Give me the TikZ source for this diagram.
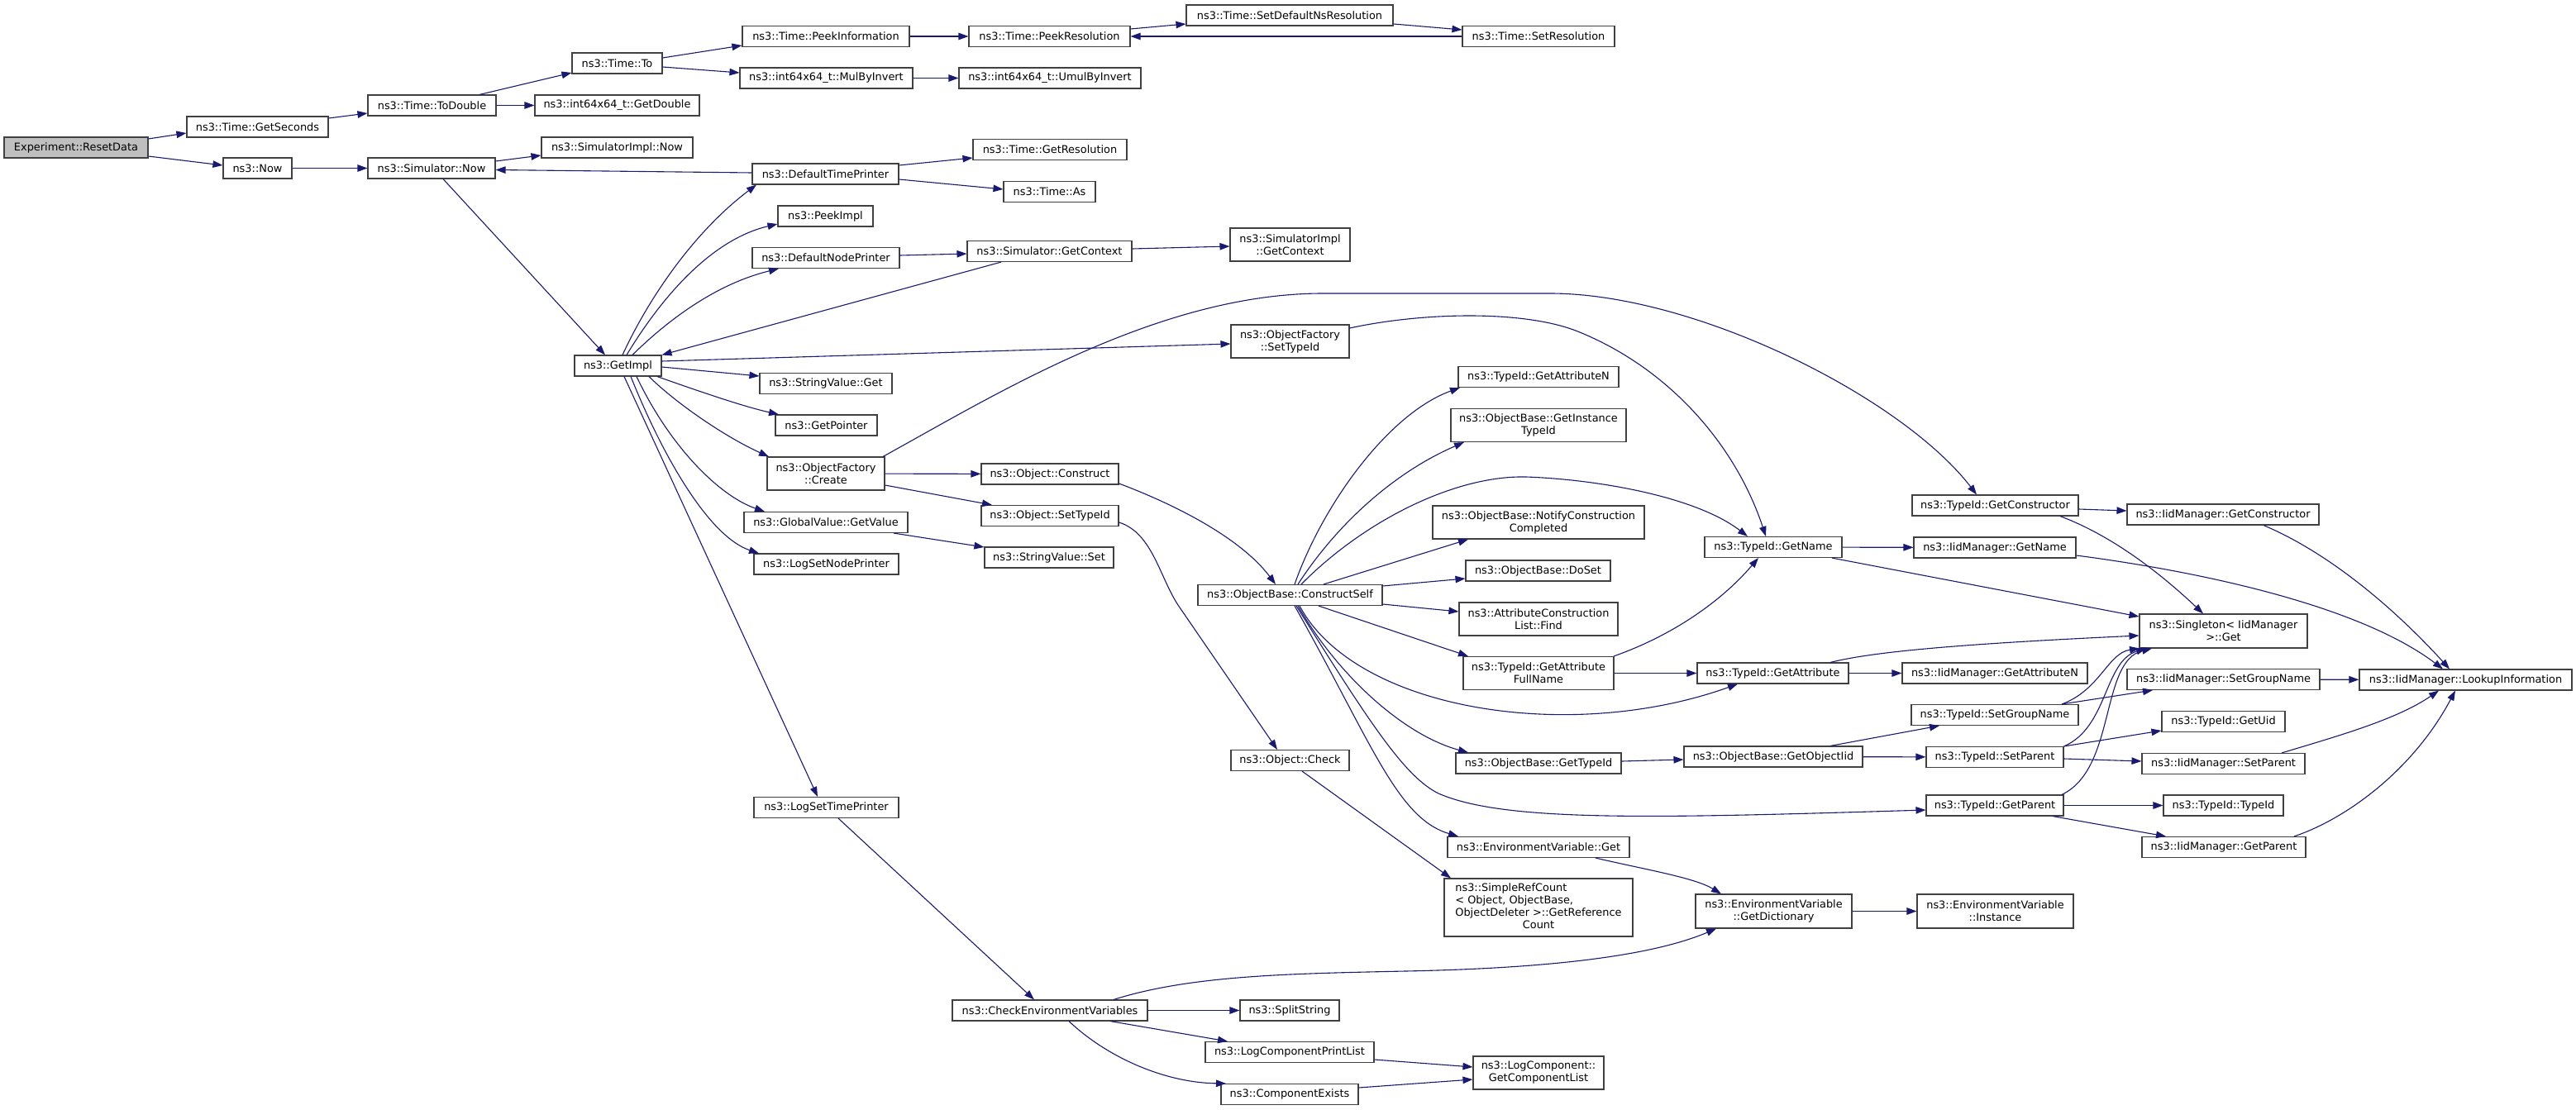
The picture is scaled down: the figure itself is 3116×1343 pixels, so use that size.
\documentclass[tikz,border=0pt]{standalone}
\usepackage{fontspec}
\setmainfont{DejaVu Sans}
\usetikzlibrary{arrows.meta}
\definecolor{edgeblue}{HTML}{191970}
\definecolor{boxgray}{HTML}{404040}
\definecolor{rootgray}{HTML}{BFBFBF}
\newcommand{\dxfont}{\fontsize{12.9}{15}\selectfont}
\tikzset{
  box/.style={draw=boxgray, line width=1.1pt, inner sep=0pt, minimum height=25pt, align=center, font=\dxfont, fill=white},
  e/.style={draw=edgeblue, line width=1.1pt, -{Triangle[length=12pt,width=8.5pt]}}
}
\begin{document}
\begin{tikzpicture}[x=1pt,y=-1pt]
\fill[white] (0,0) rectangle (3116,1343);
\useasboundingbox (0,0) rectangle (3116,1343);
% ---------------- nodes ----------------
\node[box,fill=rootgray,minimum width=174pt] (reset) at (92,178.5) {Experiment::ResetData};
\node[box,minimum width=171pt] (getsec) at (311.5,153.5) {ns3::Time::GetSeconds};
\node[box,minimum width=83pt] (now) at (311.5,203.5) {ns3::Now};
\node[box,minimum width=155pt] (todouble) at (522.5,127.5) {ns3::Time::ToDouble};
\node[box,minimum width=154pt] (simnow) at (522,203.5) {ns3::Simulator::Now};
\node[box,minimum width=109pt] (timeto) at (746.5,76.5) {ns3::Time::To};
\node[box,minimum width=199pt] (getdouble) at (746.5,127.5) {ns3::int64x64\_t::GetDouble};
\node[box,minimum width=183pt] (simimplnow) at (746.5,178.5) {ns3::SimulatorImpl::Now};
\node[box,minimum width=105pt] (getimpl) at (747.5,442.5) {ns3::GetImpl};
\node[box,minimum width=202pt] (peekinfo) at (999,44) {ns3::Time::PeekInformation};
\node[box,minimum width=209pt] (mulbyinv) at (999.5,94.5) {ns3::int64x64\_t::MulByInvert};
\node[box,minimum width=177pt] (deftime) at (998.5,210.5) {ns3::DefaultTimePrinter};
\node[box,minimum width=115pt] (peekimpl) at (998.5,261.5) {ns3::PeekImpl};
\node[box,minimum width=178pt] (defnode) at (999,312) {ns3::DefaultNodePrinter};
\node[box,minimum width=160pt] (strget) at (999,464) {ns3::StringValue::Get};
\node[box,minimum width=123pt] (getpointer) at (999.5,514.5) {ns3::GetPointer};
\node[box,minimum width=142pt,minimum height=40pt] (ofcreate) at (999,573) {ns3::ObjectFactory\\::Create};
\node[box,minimum width=198pt] (gvget) at (999,632) {ns3::GlobalValue::GetValue};
\node[box,minimum width=175pt] (logsetnode) at (999.5,682.5) {ns3::LogSetNodePrinter};
\node[box,minimum width=175pt] (logsettime) at (999.5,977) {ns3::LogSetTimePrinter};
\node[box,minimum width=195pt] (peekres) at (1269.5,44) {ns3::Time::PeekResolution};
\node[box,minimum width=220pt] (umul) at (1270,94.5) {ns3::int64x64\_t::UmulByInvert};
\node[box,minimum width=186pt] (getres) at (1270,181) {ns3::Time::GetResolution};
\node[box,minimum width=111pt] (timeas) at (1269.5,232) {ns3::Time::As};
\node[box,minimum width=199pt] (simgetctx) at (1269.5,304) {ns3::Simulator::GetContext};
\node[box,minimum width=166pt] (objconstruct) at (1270,573.5) {ns3::Object::Construct};
\node[box,minimum width=166pt] (objsettypeid) at (1270,624) {ns3::Object::SetTypeId};
\node[box,minimum width=156pt] (strset) at (1269,674.5) {ns3::StringValue::Set};
\node[box,minimum width=236pt] (checkenv) at (1270,1222.5) {ns3::CheckEnvironmentVariables};
\node[box,minimum width=250pt] (setdefns) at (1560,18.5) {ns3::Time::SetDefaultNsResolution};
\node[box,minimum width=145pt,minimum height=40pt] (simimplgetctx) at (1560.5,296) {ns3::SimulatorImpl\\::GetContext};
\node[box,minimum width=143pt,minimum height=40pt] (ofsettypeid) at (1560.5,413) {ns3::ObjectFactory\\::SetTypeId};
\node[box,minimum width=223pt] (constructself) at (1560.5,720) {ns3::ObjectBase::ConstructSelf};
\node[box,minimum width=143pt] (objcheck) at (1560.5,920) {ns3::Object::Check};
\node[box,minimum width=120pt] (splitstring) at (1560,1222.5) {ns3::SplitString};
\node[box,minimum width=204pt] (printlist) at (1560,1273) {ns3::LogComponentPrintList};
\node[box,minimum width=166pt] (compexists) at (1560,1324) {ns3::ComponentExists};
\node[box,minimum width=184pt] (setres) at (1861,44) {ns3::Time::SetResolution};
\node[box,minimum width=194pt] (getattrn) at (1861,456) {ns3::TypeId::GetAttributeN};
\node[box,minimum width=212pt,minimum height=40pt] (getinst) at (1861,514.5) {ns3::ObjectBase::GetInstance\\TypeId};
\node[box,minimum width=256pt,minimum height=40pt] (notify) at (1861,632) {ns3::ObjectBase::NotifyConstruction\\Completed};
\node[box,minimum width=175pt] (doset) at (1860.5,690.5) {ns3::ObjectBase::DoSet};
\node[box,minimum width=192pt,minimum height=40pt] (acfind) at (1861,749) {ns3::AttributeConstruction\\List::Find};
\node[box,minimum width=182pt,minimum height=40pt] (getattrfull) at (1861,814.5) {ns3::TypeId::GetAttribute\\FullName};
\node[box,minimum width=200pt] (obgettypeid) at (1861,923.5) {ns3::ObjectBase::GetTypeId};
\node[box,minimum width=220pt] (envget) at (1861,1025) {ns3::EnvironmentVariable::Get};
\node[box,minimum width=228pt,minimum height=70pt] (refcount) at (1861,1098) {\begin{tabular}{@{}l@{}}ns3::SimpleRefCount\\< Object, ObjectBase,\\\multicolumn{1}{@{}c@{}}{ObjectDeleter >::GetReference}\\\multicolumn{1}{@{}c@{}}{Count}\end{tabular}};
\node[box,minimum width=158pt,minimum height=40pt] (getcomplist) at (1861,1298) {ns3::LogComponent::\\GetComponentList};
\node[box,minimum width=166pt] (getname) at (2145,662) {ns3::TypeId::GetName};
\node[box,minimum width=183pt] (getattr) at (2144.5,814.5) {ns3::TypeId::GetAttribute};
\node[box,minimum width=216pt] (getobjiid) at (2145,915.5) {ns3::ObjectBase::GetObjectIid};
\node[box,minimum width=189pt,minimum height=41pt] (getdict) at (2145.5,1102.5) {ns3::EnvironmentVariable\\::GetDictionary};
\node[box,minimum width=201pt] (getctor) at (2413.5,611.5) {ns3::TypeId::GetConstructor};
\node[box,minimum width=196pt] (iidgetname) at (2413,662.5) {ns3::IidManager::GetName};
\node[box,minimum width=224pt] (iidgetattrn) at (2413,814.5) {ns3::IidManager::GetAttributeN};
\node[box,minimum width=202pt] (tsetgroup) at (2413,865) {ns3::TypeId::SetGroupName};
\node[box,minimum width=166pt] (tsetparent) at (2413,916) {ns3::TypeId::SetParent};
\node[box,minimum width=166pt] (tgetparent) at (2413,974.5) {ns3::TypeId::GetParent};
\node[box,minimum width=189pt,minimum height=41pt] (envinst) at (2413.5,1102.5) {ns3::EnvironmentVariable\\::Instance};
\node[box,minimum width=232pt] (iidgetctor) at (2689,622.5) {ns3::IidManager::GetConstructor};
\node[box,minimum width=203pt,minimum height=41pt] (singleton) at (2689.5,763.5) {ns3::Singleton< IidManager\\>::Get};
\node[box,minimum width=233pt] (iidsetgroup) at (2689.5,822) {ns3::IidManager::SetGroupName};
\node[box,minimum width=149pt] (tgetuid) at (2689.5,873) {ns3::TypeId::GetUid};
\node[box,minimum width=197pt] (iidsetparent) at (2689.5,924) {ns3::IidManager::SetParent};
\node[box,minimum width=145pt] (ttypeid) at (2689.5,974.5) {ns3::TypeId::TypeId};
\node[box,minimum width=198pt] (iidgetparent) at (2690,1025) {ns3::IidManager::GetParent};
\node[box,minimum width=257pt] (lookup) at (2982.5,822.5) {ns3::IidManager::LookupInformation};
% ---------------- edges ----------------
\draw[e] (reset.east |- 0,168) -- (getsec.west |- 0,161);
\draw[e] (reset.east |- 0,189) -- (now.west |- 0,200);
\draw[e] (getsec.east |- 0,143) -- (todouble.west |- 0,137);
\draw[e] (580,0 |- todouble.north) -- (timeto.west |- 0,88);
\draw[e] (todouble) -- (getdouble);
\draw[e] (timeto.east |- 0,70) -- (peekinfo.west |- 0,55);
\draw[e] (timeto.east |- 0,81) -- (mulbyinv.west |- 0,88);
\draw[e] (peekinfo) -- (peekres);
\draw[e] (mulbyinv) -- (umul);
\draw[e] (peekres.east |- 0,35) -- (setdefns.west |- 0,29);
\draw[e] (setdefns.east |- 0,29) -- (setres.west |- 0,36);
\draw[e] (setres.west |- 0,44) -- (peekres.east |- 0,44);
\draw[e] (now) -- (simnow);
\draw[e] (simnow.east |- 0,195) -- (simimplnow.west |- 0,188);
\draw[e] (536,0 |- simnow.south) -- (732,0 |- getimpl.north);
\draw[e] (deftime.west |- 0,209) -- (simnow.east |- 0,205.5);
\draw[e] (deftime.east |- 0,200) -- (getres.west |- 0,191);
\draw[e] (deftime.east |- 0,217) -- (timeas.west |- 0,229);
\draw[e] (753,0 |- getimpl.north) .. controls (785,360) and (840,280) .. (915,0 |- deftime.south);
\draw[e] (758,0 |- getimpl.north) .. controls (800,360) and (860,290) .. (peekimpl.west |- 0,271);
\draw[e] (765,0 |- getimpl.north) .. controls (800,395) and (860,345) .. (942,0 |- defnode.south);
\draw[e] (defnode.east |- 0,309) -- (simgetctx.west |- 0,307);
\draw[e] (simgetctx.east |- 0,301) -- (simimplgetctx.west |- 0,298);
\draw[e] (1211,0 |- simgetctx.south) -- (getimpl.north east);
\draw[e] (getimpl.east |- 0,437) -- (ofsettypeid.west |- 0,416);
\draw[e] (getimpl.east |- 0,444) -- (strget.west |- 0,455);
\draw[e] (795,0 |- getimpl.south) .. controls (850,475) and (900,492) .. (942,0 |- getpointer.north);
\draw[e] (785,0 |- getimpl.south) .. controls (820,490) and (880,530) .. (930,0 |- ofcreate.north);
\draw[e] (770,0 |- getimpl.south) .. controls (810,540) and (870,600) .. (925,0 |- gvget.north);
\draw[e] (763,0 |- getimpl.south) .. controls (805,560) and (860,650) .. (918,0 |- logsetnode.north);
\draw[e] (755,0 |- getimpl.south) -- (989,0 |- logsettime.north);
\draw[e] (ofcreate) -- (objconstruct);
\draw[e] (ofcreate.east |- 0,587) -- (1200,0 |- objsettypeid.north);
\draw[e] (1068,0 |- ofcreate.north) .. controls (1200,480) and (1400,355) .. (1600,355) -- (1875,355) .. controls (2050,355) and (2300,480) .. (2391,0 |- getctor.north);
\draw[e] (1081,0 |- gvget.south) -- (strset.west |- 0,662);
\draw[e] (ofsettypeid.east |- 0,397) .. controls (1720,378) and (1840,375) .. (1906,400) .. controls (2020,445) and (2100,540) .. (2136,0 |- getname.north);
\draw[e] (objconstruct.east |- 0,585) .. controls (1420,610) and (1500,650) .. (1543,0 |- constructself.north);
\draw[e] (objsettypeid.east |- 0,632) .. controls (1395,645) and (1403,701) .. (1427,735) -- (1545,0 |- objcheck.north);
\draw[e] (1575,0 |- objcheck.south) -- (1755,0 |- refcount.north);
\draw[e] (1566,0 |- constructself.north) .. controls (1600,610) and (1680,500) .. (1766,0 |- getattrn.south);
\draw[e] (1570,0 |- constructself.north) .. controls (1620,630) and (1690,570) .. (1771,0 |- getinst.south);
\draw[e] (1574,0 |- constructself.north) .. controls (1650,630) and (1760,575) .. (1846,577) .. controls (1930,580) and (2050,600) .. (2114,0 |- getname.north);
\draw[e] (1601,0 |- constructself.north) -- (1776,0 |- notify.south);
\draw[e] (constructself.east |- 0,709) -- (doset.west |- 0,700);
\draw[e] (constructself.east |- 0,731) -- (acfind.west |- 0,740);
\draw[e] (1595,0 |- constructself.south) -- (1776,0 |- getattrfull.north);
\draw[e] (1572,0 |- constructself.south) .. controls (1640,860) and (1900,900) .. (2102,0 |- getattr.south);
\draw[e] (1570,0 |- constructself.south) .. controls (1620,820) and (1700,890) .. (1776,0 |- obgettypeid.north);
\draw[e] (1568,0 |- constructself.south) .. controls (1660,880) and (1700,940) .. (1740,960) .. controls (1820,995) and (2000,990) .. (tgetparent.west |- 0,980);
\draw[e] (1566,0 |- constructself.south) .. controls (1660,900) and (1690,990) .. (1764,0 |- envget.north);
\draw[e] (1952,0 |- getattrfull.north) .. controls (2020,770) and (2080,730) .. (2127,0 |- getname.south);
\draw[e] (getattrfull.east |- 0,814.5) -- (getattr.west);
\draw[e] (getattr) -- (iidgetattrn);
\draw[e] (2214,0 |- getattr.north) .. controls (2260,790) and (2350,780) .. (singleton.west |- 0,769);
\draw[e] (getname) -- (iidgetname);
\draw[e] (2216,0 |- getname.south) -- (singleton.west |- 0,746);
\draw[e] (getctor.east |- 0,616) -- (iidgetctor.west |- 0,618);
\draw[e] (2492,0 |- getctor.south) .. controls (2560,650) and (2620,700) .. (2665,0 |- singleton.north);
\draw[e] (2738,0 |- iidgetctor.south) .. controls (2820,670) and (2900,740) .. (2963,0 |- lookup.north);
\draw[e] (iidgetname.east |- 0,672) .. controls (2650,690) and (2850,730) .. (2955,0 |- lookup.north);
\draw[e] (iidsetgroup) -- (lookup);
\draw[e] (2760,0 |- iidsetparent.north) .. controls (2830,890) and (2900,870) .. (2950,0 |- lookup.south);
\draw[e] (2775,0 |- iidgetparent.north) .. controls (2840,990) and (2920,930) .. (2970,0 |- lookup.south);
\draw[e] (obgettypeid.east |- 0,921) -- (getobjiid.west |- 0,919);
\draw[e] (2214,0 |- getobjiid.north) -- (2346,0 |- tsetgroup.south);
\draw[e] (getobjiid) -- (tsetparent);
\draw[e] (2494,0 |- tsetgroup.north) -- (2604,0 |- iidsetgroup.south);
\draw[e] (2494,0 |- tsetgroup.north) .. controls (2540,835) and (2550,790) .. (2588,0 |- singleton.south);
\draw[e] (tsetparent.north east) -- (tgetuid.west |- 0,884);
\draw[e] (tsetparent.east |- 0,918) -- (iidsetparent.west |- 0,921);
\draw[e] (tsetparent.north east) .. controls (2550,880) and (2545,800) .. (2596,0 |- singleton.south);
\draw[e] (tgetparent) -- (ttypeid);
\draw[e] (2483,0 |- tgetparent.south) -- (2620,0 |- iidgetparent.north);
\draw[e] (2494,0 |- tgetparent.north) .. controls (2560,930) and (2540,800) .. (2603,0 |- singleton.south);
\draw[e] (1930,0 |- envget.south) .. controls (1990,1052) and (2050,1062) .. (2082,0 |- getdict.north);
\draw[e] (getdict) -- (envinst);
\draw[e] (1014,0 |- logsettime.south) -- (1251,0 |- checkenv.north);
\draw[e] (1347,0 |- checkenv.north) .. controls (1440,1180) and (1560,1178) .. (1700,1175) .. controls (1850,1172) and (1990,1160) .. (2076,0 |- getdict.south);
\draw[e] (checkenv) -- (splitstring);
\draw[e] (1343,0 |- checkenv.south) -- (1485,0 |- printlist.north);
\draw[e] (1293,0 |- checkenv.south) .. controls (1340,1280) and (1410,1310) .. (1483,0 |- compexists.north);
\draw[e] (printlist.east |- 0,1282) -- (getcomplist.west |- 0,1291);
\draw[e] (compexists.east |- 0,1316) -- (getcomplist.west |- 0,1306);
\end{tikzpicture}
\end{document}
